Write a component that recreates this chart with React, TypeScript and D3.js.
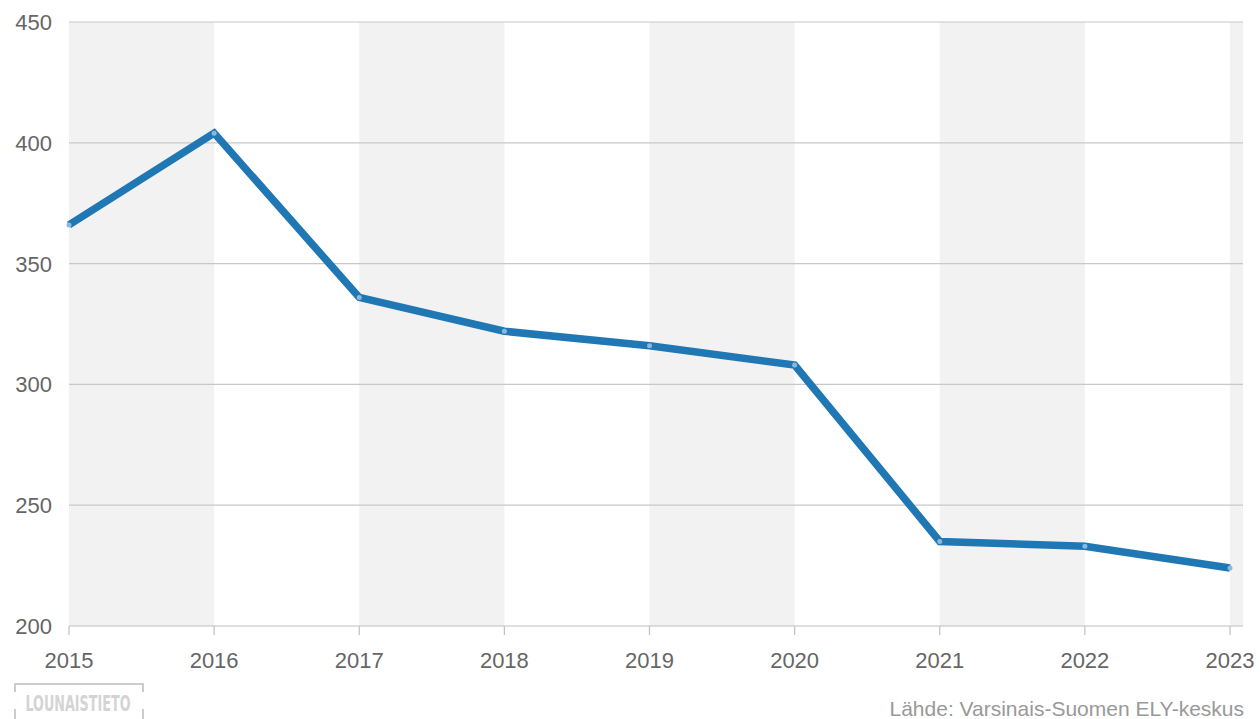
import React from 'react';
import * as d3 from 'd3';

const width = 1260;
const height = 719;
const margin = {top: 22, right: 30, bottom: 93, left: 69};
const blue = '#1f77b4';

const years = [2015, 2016, 2017, 2018, 2019, 2020, 2021, 2022, 2023];
const values = [366, 404, 336, 322, 316, 308, 235, 233, 224];
const yTicks = [200, 250, 300, 350, 400, 450];

const xScale = d3.scaleLinear().domain([2015, 2023]).range([margin.left, 1230]);
const yScale = d3.scaleLinear().domain([200, 450]).range([height - margin.bottom, margin.top]);
const plotRight = 1243;
const plotBottom = yScale(200);

const lineGenerator = d3.line<number>()
  .x((d, i) => xScale(years[i]))
  .y(d => yScale(d));

export default function App() {
  const band = xScale(2016) - xScale(2015);
  return (
    <svg width={width} height={height} style={{position: 'absolute', left: 0, top: 0}}
      fontFamily="'Liberation Sans', Arial, sans-serif">
      {years.map((y, i) => i % 2 === 0 ? (
        <rect key={y} x={xScale(y)} y={margin.top}
          width={Math.min(band, plotRight - xScale(y))} height={plotBottom - margin.top} fill="#f2f2f2"/>
      ) : null)}
      {yTicks.map(t => (
        <g key={t}>
          {t !== 200 && <line x1={margin.left} x2={plotRight} y1={yScale(t)} y2={yScale(t)} stroke="#c8c8c8" strokeWidth={1.2}/>}
          <text x={52} y={yScale(t)} dy="0.36em" textAnchor="end" fontSize={22} fill="#666">{t}</text>
        </g>
      ))}
      <line x1={margin.left} x2={plotRight} y1={plotBottom} y2={plotBottom} stroke="#c0c0c0" strokeWidth={1.2}/>
      {years.map(y => (
        <g key={y}>
          <line x1={xScale(y)} x2={xScale(y)} y1={plotBottom} y2={plotBottom + 9} stroke="#c0c0c0" strokeWidth={1.2}/>
          <text x={xScale(y)} y={668} textAnchor="middle" fontSize={22} fill="#666">{y}</text>
        </g>
      ))}
      <path d={lineGenerator(values) || ''} fill="none" stroke={blue} strokeWidth={7.5} strokeLinejoin="miter"/>
      {values.map((v, i) => (
        <circle key={i} cx={xScale(years[i])} cy={yScale(v)} r={2.5} fill="#8cb8dc"/>
      ))}
      <g>
        <path d="M15,692 V684 H143 V692" fill="none" stroke="#cccccc" strokeWidth={2}/>
        <path d="M15,709 V719 M143,709 V719" fill="none" stroke="#cccccc" strokeWidth={2}/>
        <text x={78} y={711} textAnchor="middle" fontSize={21} fill="#d4d4d4" fontWeight="bold"
          fontFamily="'DejaVu Sans Condensed', 'Liberation Sans Narrow', sans-serif"
          textLength={105} lengthAdjust="spacingAndGlyphs">LOUNAISTIETO</text>
      </g>
      <text x={1244} y={716} textAnchor="end" fontSize={21} fill="#999">Lähde: Varsinais-Suomen ELY-keskus</text>
    </svg>
  );
}
